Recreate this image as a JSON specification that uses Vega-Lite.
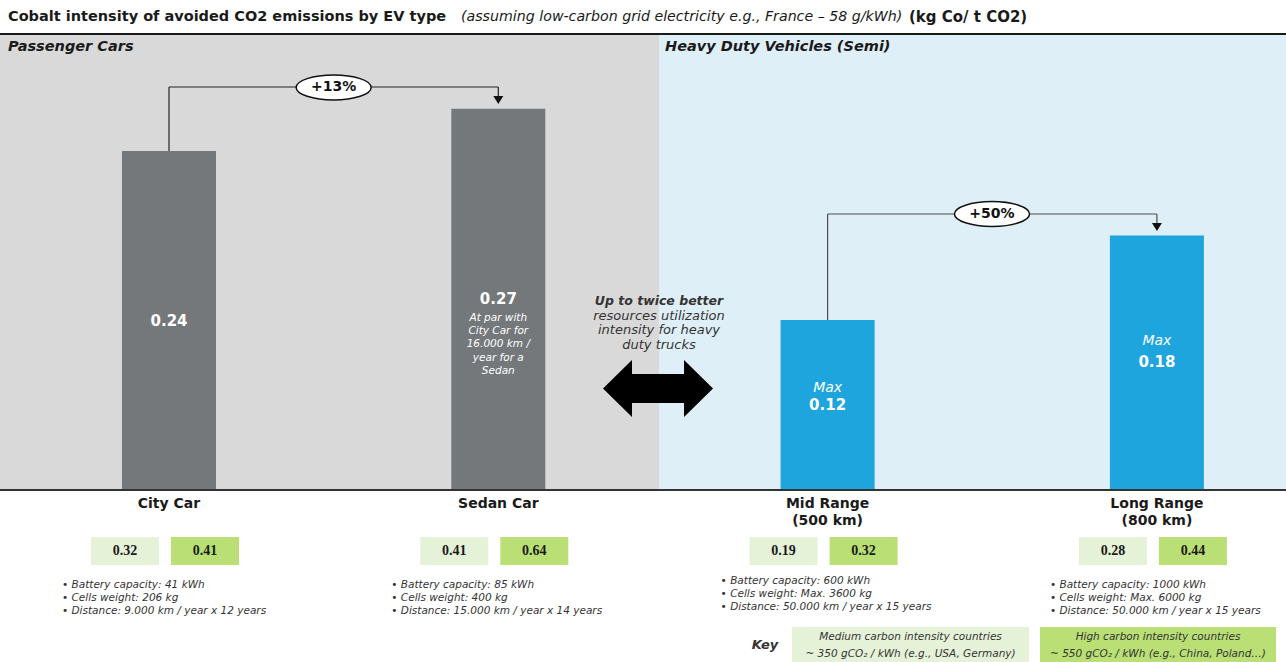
{
  "$schema": "https://vega.github.io/schema/vega-lite/v6.json",
  "width": 1286,
  "height": 662,
  "autosize": {"type": "none"},
  "padding": 0,
  "background": "white",
  "view": {"stroke": null},
  "config": {"font": "DejaVu Sans", "text": {"font": "DejaVu Sans"}},
  "datasets": {
    "bars": [
      {"vehicle": "City Car", "label": "City Car", "segment": "Passenger Cars", "idx": 0, "cobalt": 0.24, "prefix": "", "note": "", "medium": 0.32, "high": 0.41, "specs": "• Battery capacity: 41 kWh\n• Cells weight: 206 kg\n• Distance: 9.000 km / year x 12 years"},
      {"vehicle": "Sedan Car", "label": "Sedan Car", "segment": "Passenger Cars", "idx": 1, "cobalt": 0.27, "prefix": "", "note": "At par with\nCity Car for\n16.000 km /\nyear for a\nSedan", "medium": 0.41, "high": 0.64, "specs": "• Battery capacity: 85 kWh\n• Cells weight: 400 kg\n• Distance: 15.000 km / year x 14 years"},
      {"vehicle": "Mid Range", "label": "Mid Range\n(500 km)", "segment": "Heavy Duty Vehicles (Semi)", "idx": 2, "cobalt": 0.12, "prefix": "Max", "note": "", "medium": 0.19, "high": 0.32, "specs": "• Battery capacity: 600 kWh\n• Cells weight: Max. 3600 kg\n• Distance: 50.000 km / year x 15 years"},
      {"vehicle": "Long Range", "label": "Long Range\n(800 km)", "segment": "Heavy Duty Vehicles (Semi)", "idx": 3, "cobalt": 0.18, "prefix": "Max", "note": "", "medium": 0.28, "high": 0.44, "specs": "• Battery capacity: 1000 kWh\n• Cells weight: Max. 6000 kg\n• Distance: 50.000 km / year x 15 years"}
    ],
    "changes": [
      {"label": "+13%", "from": "City Car", "to": "Sedan Car"},
      {"label": "+50%", "from": "Mid Range", "to": "Long Range"}
    ],
    "texts": [
      {"id": "title1", "text": "Cobalt intensity of avoided CO2 emissions by EV type"},
      {"id": "title2", "text": "(assuming low-carbon grid electricity e.g., France – 58 g/kWh)"},
      {"id": "title3", "text": "(kg Co/ t CO2)"},
      {"id": "seg1", "text": "Passenger Cars"},
      {"id": "seg2", "text": "Heavy Duty Vehicles (Semi)"},
      {"id": "mid1", "text": "Up to twice better"},
      {"id": "mid2", "text": "resources utilization\nintensity for heavy\nduty trucks"},
      {"id": "key", "text": "Key"},
      {"id": "keyMedium", "text": "Medium carbon intensity countries\n~ 350 gCO₂ / kWh (e.g., USA, Germany)"},
      {"id": "keyHigh", "text": "High carbon intensity countries\n~ 550 gCO₂ / kWh (e.g., China, Poland…)"}
    ]
  },
  "layer": [
    {
      "data": {"name": "texts"},
      "transform": [{"filter": "datum.id === 'seg1'"}],
      "mark": {"type": "rect", "color": "#d9d9d9"},
      "encoding": {
        "x": {"datum": -0.5132, "type": "quantitative", "scale": {"domain": [-0.5132, 3.392], "nice": false, "zero": false, "padding": 0}, "axis": null},
        "x2": {"datum": 1.488},
        "y": {"datum": 0, "type": "quantitative", "scale": {"domain": [-0.1229, 0.3473], "nice": false, "zero": false, "padding": 0}, "axis": null},
        "y2": {"datum": 0.3224}
      }
    },
    {
      "data": {"name": "texts"},
      "transform": [{"filter": "datum.id === 'seg2'"}],
      "mark": {"type": "rect", "color": "#dfeff8"},
      "encoding": {
        "x": {"datum": 1.488, "type": "quantitative"},
        "x2": {"datum": 3.392},
        "y": {"datum": 0, "type": "quantitative"},
        "y2": {"datum": 0.3224}
      }
    },
    {
      "data": {"name": "texts"},
      "transform": [{"filter": "datum.id === 'seg1'"}],
      "mark": {"type": "rule", "color": "#1a1a1a", "strokeWidth": 2},
      "encoding": {
        "x": {"datum": -0.5132, "type": "quantitative"},
        "x2": {"datum": 3.392},
        "y": {"datum": 0.3232, "type": "quantitative"}
      }
    },
    {
      "data": {"name": "texts"},
      "transform": [{"filter": "datum.id === 'seg1'"}],
      "mark": {"type": "rule", "color": "#333333", "strokeWidth": 2},
      "encoding": {
        "x": {"datum": -0.5132, "type": "quantitative"},
        "x2": {"datum": 3.392},
        "y": {"datum": -0.0007, "type": "quantitative"}
      }
    },
    {
      "data": {"name": "texts"},
      "transform": [{"filter": "datum.id === 'seg1'"}],
      "mark": {"type": "text", "align": "left", "baseline": "middle", "fontSize": 14.5, "fontWeight": "bold", "fontStyle": "italic", "color": "#1a1a1a"},
      "encoding": {
        "x": {"datum": -0.4889, "type": "quantitative"},
        "y": {"datum": 0.3139, "type": "quantitative"},
        "text": {"field": "text"}
      }
    },
    {
      "data": {"name": "texts"},
      "transform": [{"filter": "datum.id === 'seg2'"}],
      "mark": {"type": "text", "align": "left", "baseline": "middle", "fontSize": 14.5, "fontWeight": "bold", "fontStyle": "italic", "color": "#1a1a1a"},
      "encoding": {
        "x": {"datum": 1.5062, "type": "quantitative"},
        "y": {"datum": 0.3139, "type": "quantitative"},
        "text": {"field": "text"}
      }
    },
    {
      "data": {"name": "bars"},
      "mark": {"type": "bar", "size": 94},
      "encoding": {
        "x": {"field": "idx", "type": "quantitative", "scale": {"domain": [-0.5132, 3.392], "nice": false, "zero": false, "padding": 0}},
        "y": {"field": "cobalt", "type": "quantitative", "scale": {"domain": [-0.1229, 0.3473], "nice": false, "zero": false, "padding": 0}},
        "y2": {"datum": 0},
        "color": {"field": "segment", "type": "nominal", "scale": {"domain": ["Passenger Cars", "Heavy Duty Vehicles (Semi)"], "range": ["#75787b", "#1ea5dd"]}, "legend": null}
      }
    },
    {
      "data": {"name": "bars"},
      "transform": [{"filter": "datum.idx === 0"}],
      "mark": {"type": "text", "align": "center", "baseline": "middle", "fontSize": 15, "fontWeight": "bold", "color": "white"},
      "encoding": {
        "x": {"field": "idx", "type": "quantitative"},
        "y": {"datum": 0.1193, "type": "quantitative"},
        "text": {"field": "cobalt", "format": ".2f"}
      }
    },
    {
      "data": {"name": "bars"},
      "transform": [{"filter": "datum.idx === 1"}],
      "mark": {"type": "text", "align": "center", "baseline": "middle", "fontSize": 15, "fontWeight": "bold", "color": "white"},
      "encoding": {
        "x": {"field": "idx", "type": "quantitative"},
        "y": {"datum": 0.1349, "type": "quantitative"},
        "text": {"field": "cobalt", "format": ".2f"}
      }
    },
    {
      "data": {"name": "bars"},
      "transform": [{"filter": "datum.idx === 1"}],
      "mark": {"type": "text", "align": "center", "baseline": "middle", "fontSize": 10.5, "fontStyle": "italic", "color": "white", "lineBreak": "\n", "lineHeight": 13.2},
      "encoding": {
        "x": {"field": "idx", "type": "quantitative"},
        "y": {"datum": 0.1214, "type": "quantitative"},
        "text": {"field": "note"}
      }
    },
    {
      "data": {"name": "bars"},
      "transform": [{"filter": "datum.idx === 2"}],
      "mark": {"type": "text", "align": "center", "baseline": "middle", "fontSize": 14, "fontStyle": "italic", "color": "white"},
      "encoding": {
        "x": {"field": "idx", "type": "quantitative"},
        "y": {"datum": 0.0717, "type": "quantitative"},
        "text": {"field": "prefix"}
      }
    },
    {
      "data": {"name": "bars"},
      "transform": [{"filter": "datum.idx === 2"}],
      "mark": {"type": "text", "align": "center", "baseline": "middle", "fontSize": 15, "fontWeight": "bold", "color": "white"},
      "encoding": {
        "x": {"field": "idx", "type": "quantitative"},
        "y": {"datum": 0.0597, "type": "quantitative"},
        "text": {"field": "cobalt", "format": ".2f"}
      }
    },
    {
      "data": {"name": "bars"},
      "transform": [{"filter": "datum.idx === 3"}],
      "mark": {"type": "text", "align": "center", "baseline": "middle", "fontSize": 14, "fontStyle": "italic", "color": "white"},
      "encoding": {
        "x": {"field": "idx", "type": "quantitative"},
        "y": {"datum": 0.1051, "type": "quantitative"},
        "text": {"field": "prefix"}
      }
    },
    {
      "data": {"name": "bars"},
      "transform": [{"filter": "datum.idx === 3"}],
      "mark": {"type": "text", "align": "center", "baseline": "middle", "fontSize": 15, "fontWeight": "bold", "color": "white"},
      "encoding": {
        "x": {"field": "idx", "type": "quantitative"},
        "y": {"datum": 0.0902, "type": "quantitative"},
        "text": {"field": "cobalt", "format": ".2f"}
      }
    },
    {
      "data": {"name": "bars"},
      "transform": [{"filter": "datum.idx === 0"}],
      "mark": {"type": "rule", "color": "#222222", "strokeWidth": 1.2},
      "encoding": {
        "x": {"field": "idx", "type": "quantitative"},
        "y": {"field": "cobalt", "type": "quantitative"},
        "y2": {"datum": 0.2855}
      }
    },
    {
      "data": {"name": "changes"},
      "transform": [{"filter": "datum.label === '+13%'"}],
      "mark": {"type": "rule", "color": "#222222", "strokeWidth": 1.2},
      "encoding": {
        "x": {"datum": 0, "type": "quantitative"},
        "x2": {"datum": 1},
        "y": {"datum": 0.2855, "type": "quantitative"}
      }
    },
    {
      "data": {"name": "changes"},
      "transform": [{"filter": "datum.label === '+13%'"}],
      "mark": {"type": "rule", "color": "#222222", "strokeWidth": 1.2},
      "encoding": {
        "x": {"datum": 1, "type": "quantitative"},
        "y": {"datum": 0.2855, "type": "quantitative"},
        "y2": {"datum": 0.2784}
      }
    },
    {
      "data": {"name": "changes"},
      "transform": [{"filter": "datum.label === '+13%'"}],
      "mark": {"type": "point", "shape": "M-1,-0.8L1,-0.8L0,0.8Z", "size": 100, "filled": true, "color": "#111111", "opacity": 1},
      "encoding": {
        "x": {"datum": 1, "type": "quantitative"},
        "y": {"datum": 0.2763, "type": "quantitative"}
      }
    },
    {
      "data": {"name": "bars"},
      "transform": [{"filter": "datum.idx === 2"}],
      "mark": {"type": "rule", "color": "#4d4d4d", "strokeWidth": 1.2},
      "encoding": {
        "x": {"field": "idx", "type": "quantitative"},
        "y": {"field": "cobalt", "type": "quantitative"},
        "y2": {"datum": 0.1953}
      }
    },
    {
      "data": {"name": "changes"},
      "transform": [{"filter": "datum.label === '+50%'"}],
      "mark": {"type": "rule", "color": "#4d4d4d", "strokeWidth": 1.2},
      "encoding": {
        "x": {"datum": 2, "type": "quantitative"},
        "x2": {"datum": 3},
        "y": {"datum": 0.1953, "type": "quantitative"}
      }
    },
    {
      "data": {"name": "changes"},
      "transform": [{"filter": "datum.label === '+50%'"}],
      "mark": {"type": "rule", "color": "#4d4d4d", "strokeWidth": 1.2},
      "encoding": {
        "x": {"datum": 3, "type": "quantitative"},
        "y": {"datum": 0.1953, "type": "quantitative"},
        "y2": {"datum": 0.1882}
      }
    },
    {
      "data": {"name": "changes"},
      "transform": [{"filter": "datum.label === '+50%'"}],
      "mark": {"type": "point", "shape": "M-1,-0.8L1,-0.8L0,0.8Z", "size": 100, "filled": true, "color": "#111111", "opacity": 1},
      "encoding": {
        "x": {"datum": 3, "type": "quantitative"},
        "y": {"datum": 0.1861, "type": "quantitative"}
      }
    },
    {
      "data": {"name": "changes"},
      "transform": [{"filter": "datum.label === '+13%'"}],
      "mark": {"type": "point", "shape": "M-1,0A1,0.333,0,1,1,1,0A1,0.333,0,1,1,-1,0Z", "size": 5625, "filled": true, "fill": "white", "stroke": "#111111", "strokeWidth": 1.5, "opacity": 1},
      "encoding": {
        "x": {"datum": 0.5, "type": "quantitative"},
        "y": {"datum": 0.2852, "type": "quantitative"}
      }
    },
    {
      "data": {"name": "changes"},
      "transform": [{"filter": "datum.label === '+13%'"}],
      "mark": {"type": "text", "align": "center", "baseline": "middle", "fontSize": 14, "fontWeight": "bold", "color": "#111111"},
      "encoding": {
        "x": {"datum": 0.5, "type": "quantitative"},
        "y": {"datum": 0.2852, "type": "quantitative"},
        "text": {"field": "label"}
      }
    },
    {
      "data": {"name": "changes"},
      "transform": [{"filter": "datum.label === '+50%'"}],
      "mark": {"type": "point", "shape": "M-1,0A1,0.333,0,1,1,1,0A1,0.333,0,1,1,-1,0Z", "size": 5625, "filled": true, "fill": "white", "stroke": "#111111", "strokeWidth": 1.5, "opacity": 1},
      "encoding": {
        "x": {"datum": 2.4992, "type": "quantitative"},
        "y": {"datum": 0.1953, "type": "quantitative"}
      }
    },
    {
      "data": {"name": "changes"},
      "transform": [{"filter": "datum.label === '+50%'"}],
      "mark": {"type": "text", "align": "center", "baseline": "middle", "fontSize": 14, "fontWeight": "bold", "color": "#111111"},
      "encoding": {
        "x": {"datum": 2.4992, "type": "quantitative"},
        "y": {"datum": 0.1953, "type": "quantitative"},
        "text": {"field": "label"}
      }
    },
    {
      "data": {"name": "texts"},
      "transform": [{"filter": "datum.id === 'mid1'"}],
      "mark": {"type": "text", "align": "center", "baseline": "middle", "fontSize": 12.5, "fontWeight": "bold", "fontStyle": "italic", "color": "#333333"},
      "encoding": {
        "x": {"datum": 1.488, "type": "quantitative"},
        "y": {"datum": 0.1335, "type": "quantitative"},
        "text": {"field": "text"}
      }
    },
    {
      "data": {"name": "texts"},
      "transform": [{"filter": "datum.id === 'mid2'"}],
      "mark": {"type": "text", "align": "center", "baseline": "middle", "fontSize": 13, "fontStyle": "italic", "color": "#333333", "lineBreak": "\n", "lineHeight": 14.5},
      "encoding": {
        "x": {"datum": 1.488, "type": "quantitative"},
        "y": {"datum": 0.1229, "type": "quantitative"},
        "text": {"field": "text"}
      }
    },
    {
      "data": {"name": "texts"},
      "transform": [{"filter": "datum.id === 'mid1'"}],
      "mark": {"type": "point", "shape": "M-1,0L-0.473,-0.518L-0.473,-0.264L0.473,-0.264L0.473,-0.518L1,0L0.473,0.518L0.473,0.264L-0.473,0.264L-0.473,0.518Z", "size": 12100, "filled": true, "color": "#000000", "opacity": 1},
      "encoding": {
        "x": {"datum": 1.485, "type": "quantitative"},
        "y": {"datum": 0.0714, "type": "quantitative"}
      }
    },
    {
      "data": {"name": "bars"},
      "mark": {"type": "text", "align": "center", "baseline": "top", "fontSize": 14, "fontWeight": "bold", "color": "#1a1a1a", "lineBreak": "\n", "lineHeight": 17},
      "encoding": {
        "x": {"field": "idx", "type": "quantitative"},
        "y": {"datum": -0.0057, "type": "quantitative"},
        "text": {"field": "label"}
      }
    },
    {
      "data": {"name": "bars"},
      "mark": {"type": "tick", "orient": "horizontal", "size": 68, "thickness": 28, "color": "#e6f2d8", "opacity": 1, "xOffset": -44},
      "encoding": {
        "x": {"field": "idx", "type": "quantitative"},
        "y": {"datum": -0.044, "type": "quantitative"}
      }
    },
    {
      "data": {"name": "bars"},
      "mark": {"type": "tick", "orient": "horizontal", "size": 68, "thickness": 28, "color": "#b9df75", "opacity": 1, "xOffset": 36},
      "encoding": {
        "x": {"field": "idx", "type": "quantitative"},
        "y": {"datum": -0.044, "type": "quantitative"}
      }
    },
    {
      "data": {"name": "bars"},
      "mark": {"type": "text", "align": "center", "baseline": "middle", "font": "Liberation Serif", "fontSize": 14, "fontWeight": "bold", "color": "#1a1a1a", "xOffset": -44},
      "encoding": {
        "x": {"field": "idx", "type": "quantitative"},
        "y": {"datum": -0.044, "type": "quantitative"},
        "text": {"field": "medium", "format": ".2f"}
      }
    },
    {
      "data": {"name": "bars"},
      "mark": {"type": "text", "align": "center", "baseline": "middle", "font": "Liberation Serif", "fontSize": 14, "fontWeight": "bold", "color": "#1a1a1a", "xOffset": 36},
      "encoding": {
        "x": {"field": "idx", "type": "quantitative"},
        "y": {"datum": -0.044, "type": "quantitative"},
        "text": {"field": "high", "format": ".2f"}
      }
    },
    {
      "data": {"name": "bars"},
      "transform": [{"filter": "datum.idx !== 2"}],
      "mark": {"type": "text", "align": "left", "baseline": "top", "fontSize": 10.5, "fontStyle": "italic", "color": "#333333", "lineBreak": "\n", "lineHeight": 12.8, "xOffset": -107},
      "encoding": {
        "x": {"field": "idx", "type": "quantitative"},
        "y": {"datum": -0.0646, "type": "quantitative"},
        "text": {"field": "specs"}
      }
    },
    {
      "data": {"name": "bars"},
      "transform": [{"filter": "datum.idx === 2"}],
      "mark": {"type": "text", "align": "left", "baseline": "top", "fontSize": 10.5, "fontStyle": "italic", "color": "#333333", "lineBreak": "\n", "lineHeight": 12.8, "xOffset": -107},
      "encoding": {
        "x": {"field": "idx", "type": "quantitative"},
        "y": {"datum": -0.0618, "type": "quantitative"},
        "text": {"field": "specs"}
      }
    },
    {
      "data": {"name": "texts"},
      "transform": [{"filter": "datum.id === 'key'"}],
      "mark": {"type": "text", "align": "center", "baseline": "middle", "fontSize": 13, "fontWeight": "bold", "fontStyle": "italic", "color": "#333333"},
      "encoding": {
        "x": {"datum": 1.8099, "type": "quantitative"},
        "y": {"datum": -0.1108, "type": "quantitative"},
        "text": {"field": "text"}
      }
    },
    {
      "data": {"name": "texts"},
      "transform": [{"filter": "datum.id === 'keyMedium'"}],
      "mark": {"type": "rect", "color": "#e6f2d8"},
      "encoding": {
        "x": {"datum": 1.8919, "type": "quantitative"},
        "x2": {"datum": 2.6116},
        "y": {"datum": -0.098, "type": "quantitative"},
        "y2": {"datum": -0.1229}
      }
    },
    {
      "data": {"name": "texts"},
      "transform": [{"filter": "datum.id === 'keyHigh'"}],
      "mark": {"type": "rect", "color": "#b9df75"},
      "encoding": {
        "x": {"datum": 2.645, "type": "quantitative"},
        "x2": {"datum": 3.3617},
        "y": {"datum": -0.098, "type": "quantitative"},
        "y2": {"datum": -0.1229}
      }
    },
    {
      "data": {"name": "texts"},
      "transform": [{"filter": "datum.id === 'keyMedium'"}],
      "mark": {"type": "text", "align": "center", "baseline": "middle", "fontSize": 10.5, "fontStyle": "italic", "color": "#333333", "lineBreak": "\n", "lineHeight": 17},
      "encoding": {
        "x": {"datum": 2.2518, "type": "quantitative"},
        "y": {"datum": -0.1051, "type": "quantitative"},
        "text": {"field": "text"}
      }
    },
    {
      "data": {"name": "texts"},
      "transform": [{"filter": "datum.id === 'keyHigh'"}],
      "mark": {"type": "text", "align": "center", "baseline": "middle", "fontSize": 10.5, "fontStyle": "italic", "color": "#333333", "lineBreak": "\n", "lineHeight": 17},
      "encoding": {
        "x": {"datum": 3.0033, "type": "quantitative"},
        "y": {"datum": -0.1051, "type": "quantitative"},
        "text": {"field": "text"}
      }
    },
    {
      "data": {"name": "texts"},
      "transform": [{"filter": "datum.id === 'title1'"}],
      "mark": {"type": "text", "align": "left", "baseline": "middle", "fontSize": 14.5, "fontWeight": "bold", "color": "#1a1a1a"},
      "encoding": {
        "x": {"datum": -0.4889, "type": "quantitative"},
        "y": {"datum": 0.3352, "type": "quantitative"},
        "text": {"field": "text"}
      }
    },
    {
      "data": {"name": "texts"},
      "transform": [{"filter": "datum.id === 'title2'"}],
      "mark": {"type": "text", "align": "left", "baseline": "middle", "fontSize": 14.2, "fontStyle": "italic", "color": "#1a1a1a"},
      "encoding": {
        "x": {"datum": 0.8867, "type": "quantitative"},
        "y": {"datum": 0.3352, "type": "quantitative"},
        "text": {"field": "text"}
      }
    },
    {
      "data": {"name": "texts"},
      "transform": [{"filter": "datum.id === 'title3'"}],
      "mark": {"type": "text", "align": "left", "baseline": "middle", "fontSize": 15, "fontWeight": "bold", "color": "#1a1a1a"},
      "encoding": {
        "x": {"datum": 2.247, "type": "quantitative"},
        "y": {"datum": 0.3352, "type": "quantitative"},
        "text": {"field": "text"}
      }
    }
  ]
}
